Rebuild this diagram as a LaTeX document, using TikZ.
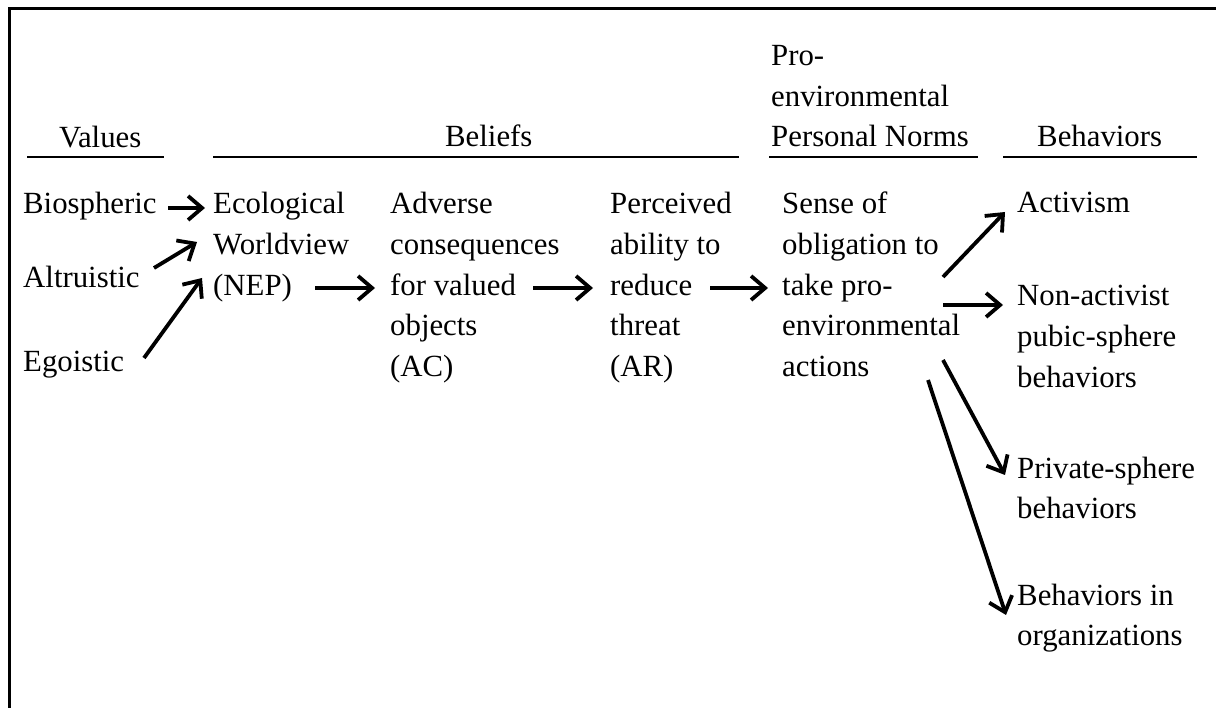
\documentclass[tikz,border=0pt]{standalone}
\usepackage{fontspec}
\setmainfont{Liberation Serif}
\usetikzlibrary{arrows.meta}
\begin{document}
\begin{tikzpicture}[x=1pt,y=-1pt,
  txt/.style={anchor=base west, inner sep=0pt, align=left, font=\fontsize{30.8pt}{40.6pt}\selectfont},
  arr/.style={line width=3.8pt, -{Straight Barb[length=14pt,width=24pt,line width=3.8pt]}},
  rulebar/.style={line width=2.6pt},
  frame/.style={line width=3pt}]
\useasboundingbox (0,0) rectangle (1216,708);
\draw[frame] (9,708) -- (9,9) -- (1216,9);
% headers (base anchor = baseline of the last line)
\node[txt] (hval) at (59,148) {Values};
\node[txt] (hbel) at (445,147) {Beliefs};
\node[txt] (hnorm) at (771,147) {Pro-\\environmental\\Personal Norms};
\node[txt] (hbeh) at (1037,147) {Behaviors};
\draw[rulebar] (27,157) -- (164,157);
\draw[rulebar] (213,157) -- (739,157);
\draw[rulebar] (769,157) -- (978,157);
\draw[rulebar] (1003,157) -- (1197,157);
% values
\node[txt] (bio) at (23,214) {Biospheric};
\node[txt] (alt) at (23,288) {Altruistic};
\node[txt] (ego) at (23,372) {Egoistic};
% beliefs
\node[txt] (nep) at (213,295.2) {Ecological\\Worldview\\(NEP)};
\node[txt] (ac) at (390,376.4) {Adverse\\consequences\\for valued\\objects\\(AC)};
\node[txt] (ar) at (610,376.4) {Perceived\\ability to\\reduce\\threat\\(AR)};
% norms
\node[txt] (pn) at (782,376.4) {Sense of\\obligation to\\take pro-\\environmental\\actions};
% behaviors
\node[txt] (act) at (1017,213) {Activism};
\node[txt] (nonact) at (1017,387.2) {Non-activist\\pubic-sphere\\behaviors};
\node[txt] (priv) at (1017,518.6) {Private-sphere\\behaviors};
\node[txt] (org) at (1017,645.6) {Behaviors in\\organizations};
% arrow end points
\coordinate (bioE) at (168,208); \coordinate (nepW1) at (205,208);
\coordinate (altE) at (154,268); \coordinate (nepW2) at (197,242);
\coordinate (egoE) at (144,358); \coordinate (nepW3) at (202,278);
\coordinate (nepE) at (315,288); \coordinate (acW) at (375,288);
\coordinate (acE) at (533,288); \coordinate (arW) at (593,288);
\coordinate (arE) at (710,288); \coordinate (pnW) at (768,288);
\coordinate (pnE1) at (943,277); \coordinate (actW) at (1005,212);
\coordinate (pnE2) at (943,305); \coordinate (nonactW) at (1003,305);
\coordinate (pnE3) at (943,360); \coordinate (privW) at (1005,475);
\coordinate (pnE4) at (928,380); \coordinate (orgW) at (1006,615);
\draw[arr] (bioE) -- (nepW1);
\draw[arr] (altE) -- (nepW2);
\draw[arr] (egoE) -- (nepW3);
\draw[arr] (nepE) -- (acW);
\draw[arr] (acE) -- (arW);
\draw[arr] (arE) -- (pnW);
\draw[arr] (pnE1) -- (actW);
\draw[arr] (pnE2) -- (nonactW);
\draw[arr] (pnE3) -- (privW);
\draw[arr] (pnE4) -- (orgW);
\end{tikzpicture}
\end{document}
